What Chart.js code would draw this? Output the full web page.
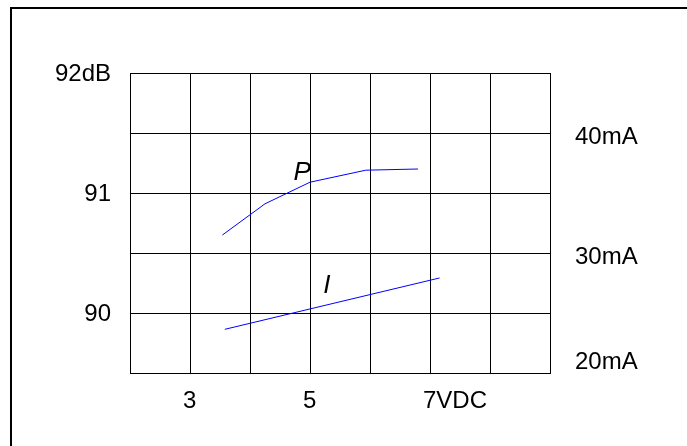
<!DOCTYPE html>
<html>
<head>
<meta charset="utf-8">
<script src="https://cdn.jsdelivr.net/npm/chart.js@4"></script>
<style>
  html, body { margin: 0; padding: 0; background: #fff; overflow: hidden; }
  #frame {
    position: absolute; left: 10px; top: 7px; right: -10px; bottom: -10px;
    border-top: 2px solid #000; border-left: 2px solid #000;
  }
  #chart { position: absolute; left: 0; top: 0; }
</style>
</head>
<body>
<div id="frame"></div>
<canvas id="chart" width="687" height="446"></canvas>
<script>
// P curve (sound pressure, dB) against supply voltage
const voltsP = [3.54, 4.25, 5.0, 5.93, 6.8];
const dbP = [90.65, 90.91, 91.09, 91.19, 91.2];
// I curve (current, mA) against supply voltage
const voltsI = [3.58, 7.16];
const currentI = [23.64, 27.92];

// tick labels
const voltTicks = [3, 5, 7];
const voltLabels = ['3', '5', '7VDC'];
const dbTicks = [90, 91, 92];
const dbLabels = ['90', '91', '92dB'];
const mATicks = [20, 30, 40];
const mALabels = ['20mA', '30mA', '40mA'];

// curve names and where they sit (volts, axis value)
const curveNames = ['P', 'I'];
const curveNameAt = [[4.87, 91.17, 'y'], [5.28, 27.25, 'y1']];

Chart.defaults.font.family = '"Liberation Sans", Arial, sans-serif';
Chart.defaults.font.size = 24;
Chart.defaults.color = '#000';

const pts = (xs, ys) => xs.map((x, i) => ({x: x, y: ys[i]}));

const curveNamePlugin = {
  id: 'curveNames',
  afterDatasetsDraw(chart) {
    const c = chart.ctx;
    c.save();
    c.font = 'italic 26px "Liberation Sans", Arial, sans-serif';
    c.fillStyle = '#000';
    c.textAlign = 'center';
    c.textBaseline = 'middle';
    curveNames.forEach((name, i) => {
      const [v, val, axis] = curveNameAt[i];
      c.fillText(name, chart.scales.x.getPixelForValue(v), chart.scales[axis].getPixelForValue(val));
    });
    c.restore();
  }
};

new Chart(document.getElementById('chart'), {
  type: 'scatter',
  data: {
    datasets: [{
      data: pts(voltsP, dbP),
      yAxisID: 'y',
      showLine: true,
      borderColor: '#0000ff',
      borderWidth: 1,
      pointRadius: 0
    }, {
      data: pts(voltsI, currentI),
      yAxisID: 'y1',
      showLine: true,
      borderColor: '#0000ff',
      borderWidth: 1,
      pointRadius: 0
    }]
  },
  options: {
    responsive: false,
    animation: false,
    layout: {padding: {top: 73, left: 0, right: 0, bottom: 0}},
    plugins: {legend: {display: false}, tooltip: {enabled: false}},
    scales: {
      x: {
        type: 'linear', min: 2, max: 9,
        grid: {color: '#000', drawTicks: false},
        border: {color: '#000'},
        ticks: {
          stepSize: 1, padding: 14, align: 'start', labelOffset: -7,
          maxRotation: 0, autoSkip: false,
          callback: v => { const i = voltTicks.indexOf(v); return i < 0 ? '' : voltLabels[i]; }
        },
        afterFit: s => { s.height = 73; }
      },
      y: {
        position: 'left', min: 89.5, max: 92,
        grid: {color: '#000', drawTicks: false},
        border: {color: '#000'},
        ticks: {
          stepSize: 0.5, padding: 19, labelOffset: 1, autoSkip: false,
          callback: v => { const i = dbTicks.indexOf(v); return i < 0 ? '' : dbLabels[i]; }
        },
        afterFit: s => { s.width = 130; }
      },
      y1: {
        position: 'right', min: 20, max: 45,
        grid: {display: false, drawTicks: false},
        border: {color: '#000'},
        ticks: {
          stepSize: 10, padding: 25, labelOffset: 4, autoSkip: false,
          // bottom label sits above the plot's lower edge, as in the source
          callback: v => {
            const i = mATicks.indexOf(v);
            if (i < 0) return '';
            return i === 0 ? [mALabels[i], ''] : mALabels[i];
          }
        },
        afterFit: s => { s.width = 137; }
      }
    }
  },
  plugins: [curveNamePlugin]
});
</script>
</body>
</html>
